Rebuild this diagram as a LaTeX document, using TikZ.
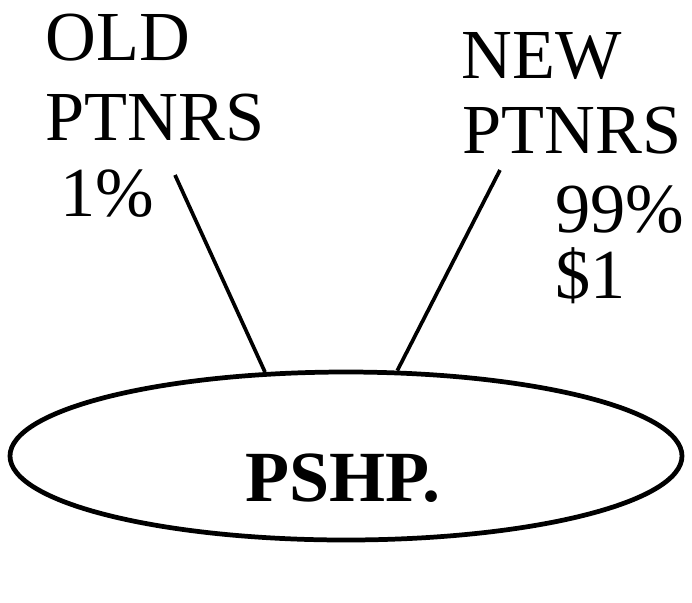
\documentclass[tikz,border=0pt]{standalone}
\usepackage{fontspec}
\setmainfont{Liberation Serif}
\usetikzlibrary{shapes.geometric}
\tikzset{
  lbl/.style={anchor=base west,inner sep=0pt,font=\fontsize{20}{24}\selectfont},
  tie/.style={line width=1.05pt},
}
\begin{document}
\begin{tikzpicture}[x=1cm,y=1cm]
        \useasboundingbox (0,0) rectangle (6.92,-6.02);
        \node[draw,ellipse,line width=1.35pt,minimum width=6.72cm,minimum height=1.68cm,inner sep=0pt] (pshp) at (3.46,-4.56) {};
        \node[anchor=base,inner sep=0pt,font=\fontsize{20.5}{24}\selectfont\bfseries] (pshptxt) at (3.43,-5.01) {PSHP.};
        % old partners
        \node[lbl] (oldA) at (0.45,-0.60) {OLD};
        \node[lbl] (oldB) at (0.45,-1.40) {PTNRS};
        \node[lbl] (oldC) at (0.60,-2.16) {1\%};
        % new partners
        \node[lbl] (newA) at (4.61,-0.78) {NEW};
        \node[lbl] (newB) at (4.62,-1.53) {PTNRS};
        \node[lbl] (newC) at (5.55,-2.32) {99\%};
        \node[lbl] (newD) at (5.55,-2.98) {\$1};
        \coordinate (oldtie) at (1.75,-1.75);
        \coordinate (newtie) at (5.00,-1.70);
        \draw[tie] (oldtie)--(pshp.134.8);
        \draw[tie] (newtie)--(pshp.59.5);
\end{tikzpicture}
\end{document}
